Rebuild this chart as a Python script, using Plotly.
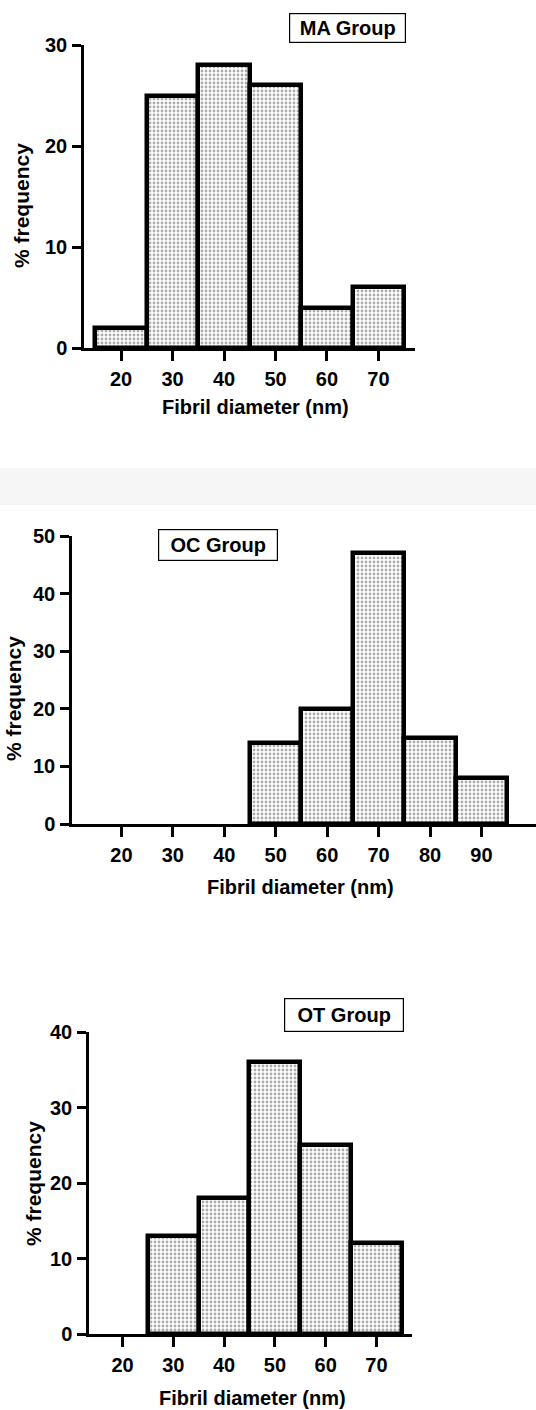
import plotly.graph_objects as go

# ---------------- data ----------------
ma_diam = [20, 30, 40, 50, 60, 70]
ma_freq = [2, 25, 28, 26, 4, 6]

oc_diam = [20, 30, 40, 50, 60, 70, 80, 90]
oc_freq = [0, 0, 0, 14, 20, 47, 15, 8]

ot_diam = [20, 30, 40, 50, 60, 70]
ot_freq = [0, 13, 18, 36, 25, 12]

group_labels = ["MA Group", "OC Group", "OT Group"]
x_title = "Fibril diameter (nm)"
y_title = "% frequency"

# ---------------- layout helpers ----------------
W, H = 536, 1410


def fx(p):
    return p / W


def fy(p):
    return 1 - p / H


def nonzero(vals):
    # empty bins are not drawn as bars
    return [v if v > 0 else None for v in vals]


FONT = "Liberation Sans, Arial, sans-serif"
TICKFONT = dict(family=FONT, size=20, color="black", weight="bold")

bar_style = dict(
    marker=dict(
        color="white",
        line=dict(color="black", width=4.5),
        pattern=dict(shape=".", fgcolor="#5a5a5a", bgcolor="white",
                     size=4, solidity=0.4),
    ),
    width=10,
    showlegend=False,
    hoverinfo="x+y",
)

fig = go.Figure()
fig.add_trace(go.Bar(x=ma_diam, y=nonzero(ma_freq), xaxis="x", yaxis="y", **bar_style))
fig.add_trace(go.Bar(x=oc_diam, y=nonzero(oc_freq), xaxis="x2", yaxis="y2", **bar_style))
fig.add_trace(go.Bar(x=ot_diam, y=nonzero(ot_freq), xaxis="x3", yaxis="y3", **bar_style))


def xaxis(domain_px, rng, ticks):
    return dict(
        domain=[fx(domain_px[0]), fx(domain_px[1])],
        range=rng,
        tickmode="array",
        tickvals=ticks,
        ticktext=[str(t) for t in ticks],
        showline=True, linecolor="black", linewidth=2.5,
        ticks="outside", ticklen=10, tickwidth=2.5, tickcolor="black",
        showgrid=False, zeroline=False,
        tickfont=TICKFONT,
        ticklabelstandoff=1,
        automargin=False,
        fixedrange=True,
    )


def yaxis(domain_px, rng, dtick, anchor):
    return dict(
        domain=[fy(domain_px[1]), fy(domain_px[0])],
        range=rng,
        dtick=dtick,
        tick0=0,
        showline=True, linecolor="black", linewidth=2.5,
        ticks="outside", ticklen=9, tickwidth=2.5, tickcolor="black",
        showgrid=False, zeroline=False,
        tickfont=TICKFONT,
        ticklabelstandoff=1,
        anchor=anchor,
        automargin=False,
        fixedrange=True,
    )


fig.update_layout(
    width=W, height=H,
    margin=dict(l=0, r=0, t=0, b=0, pad=0, autoexpand=False),
    paper_bgcolor="white",
    plot_bgcolor="rgba(0,0,0,0)",
    bargap=0,
    xaxis=dict(**xaxis((84, 415), [12.8, 77.1], ma_diam), anchor="y"),
    yaxis=yaxis((45, 348), [0, 30], 10, "x"),
    xaxis2=dict(**xaxis((72, 536), [10.4, 100.6], oc_diam), anchor="y2"),
    yaxis2=yaxis((536, 824), [0, 50], 10, "x2"),
    xaxis3=dict(**xaxis((89, 412), [13.4, 77.0], ot_diam), anchor="y3"),
    yaxis3=yaxis((1032, 1334), [0, 40], 10, "x3"),
)

# faint scan smear between the first two panels
fig.add_shape(type="rect", xref="paper", yref="paper",
              x0=0, x1=1, y0=fy(505), y1=fy(468),
              fillcolor="#f6f6f6", line=dict(width=0), layer="below")

annots = []
# axis titles
for (cx, cy) in [(255, 407), (300, 887), (252, 1398)]:
    annots.append(dict(text=x_title, x=fx(cx), y=fy(cy), xref="paper", yref="paper",
                       xanchor="center", yanchor="middle", showarrow=False,
                       font=dict(family=FONT, size=20, color="black", weight="bold")))
for (cx, cy) in [(22, 206), (13, 699), (33, 1184)]:
    annots.append(dict(text=y_title, x=fx(cx), y=fy(cy), xref="paper", yref="paper",
                       xanchor="center", yanchor="middle", showarrow=False, textangle=-90,
                       font=dict(family=FONT, size=21, color="black", weight="bold")))
# group label boxes
for label, (cx, cy), (bw, bh) in zip(group_labels,
                                     [(347.5, 28), (218, 545), (344, 1015)],
                                     [(117, 30), (120, 32), (120, 34)]):
    annots.append(dict(text=label, x=fx(cx), y=fy(cy), xref="paper", yref="paper",
                       xanchor="center", yanchor="middle", showarrow=False,
                       width=bw - 6, height=bh - 6, borderpad=2,
                       bordercolor="black", borderwidth=1.2, bgcolor="white",
                       font=dict(family=FONT, size=20, color="black", weight="bold")))
fig.update_layout(annotations=annots)

fig.write_html(
    "out.html",
    config={"displayModeBar": False},
    post_script="document.body.style.margin='0';document.body.style.overflow='hidden';",
)
